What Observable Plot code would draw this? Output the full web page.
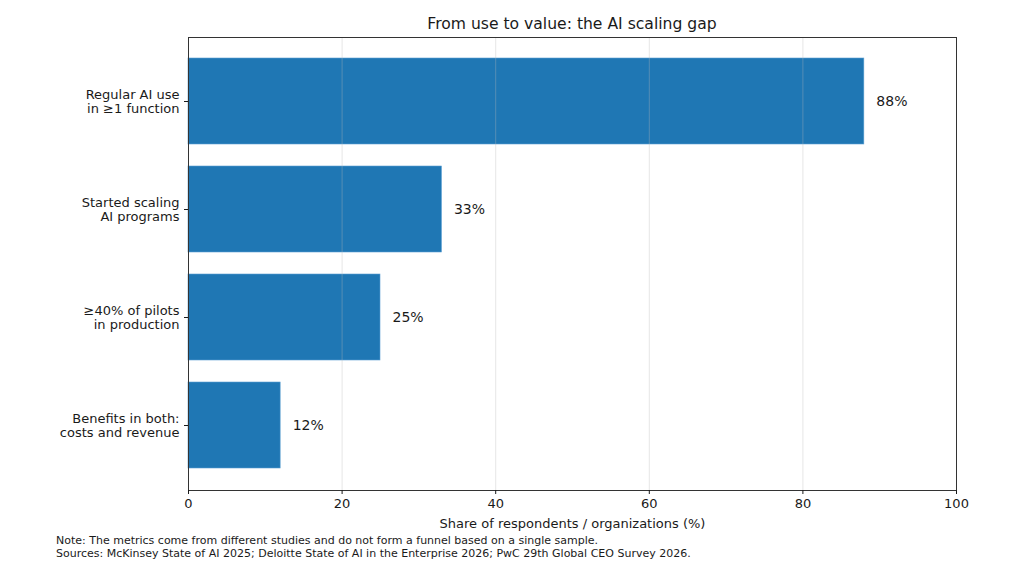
<!DOCTYPE html>
<html>
<head>
<meta charset="utf-8">
<script src="https://cdn.jsdelivr.net/npm/d3@7"></script>
<script src="https://cdn.jsdelivr.net/npm/@observablehq/plot@0.6"></script>
<style>
  html, body { margin: 0; padding: 0; background: #fff; }
  #wrap { position: relative; width: 1024px; height: 576px; font-family: "DejaVu Sans", sans-serif; color: #1a1a1a; }
  #title { position: absolute; left: 188px; width: 768px; top: 15px; text-align: center; font-size: 15.6px; }
  #note { position: absolute; left: 56px; top: 534px; font-size: 11px; line-height: 13px; }
  #chart { position: absolute; left: 0; top: 0; }
</style>
</head>
<body>
<div id="wrap">
  <div id="chart"></div>
  <div id="title">From use to value: the AI scaling gap</div>
  <div id="note">Note: The metrics come from different studies and do not form a funnel based on a single sample.<br>Sources: McKinsey State of AI 2025; Deloitte State of AI in the Enterprise 2026; PwC 29th Global CEO Survey 2026.</div>
</div>
<script>
// Categories (top to bottom) and their shares in percent
const categories = [
  "Regular AI use\nin ≥1 function",
  "Started scaling\nAI programs",
  "≥40% of pilots\nin production",
  "Benefits in both:\ncosts and revenue"
];
const shares = [88, 33, 25, 12];
const xTicks = [0, 20, 40, 60, 80, 100];
const gridLines = [20, 40, 60, 80];

const rows = categories.map((c, i) => ({category: c, share: shares[i]}));

const chart = Plot.plot({
  width: 1024,
  height: 576,
  marginTop: 37,
  marginBottom: 86,
  marginLeft: 188,
  marginRight: 68,
  style: {fontFamily: "DejaVu Sans, sans-serif", fontSize: "13px", color: "#1a1a1a", background: "transparent"},
  x: {domain: [0, 100]},
  y: {domain: categories, paddingInner: 0.2, paddingOuter: 0.19},
  marks: [
    Plot.barX(rows, {x: "share", y: "category", fill: "#1f77b4", stroke: "#5d9fd2", strokeWidth: 0.6}),
    Plot.ruleX(gridLines, {stroke: "#b8b8b8", strokeOpacity: 0.35, strokeWidth: 1}),
    Plot.text(rows, {x: "share", y: "category", text: d => d.share + "%", textAnchor: "start", dx: 12, fontSize: 14, fill: "#1a1a1a"}),
    Plot.frame({stroke: "#333", strokeWidth: 1}),
    Plot.axisX({ticks: xTicks, tickSize: 4, tickPadding: 4, fontSize: 13,
      label: "Share of respondents / organizations (%)", labelAnchor: "center", labelArrow: "none", labelOffset: 37}),
    Plot.axisY({tickSize: 4, tickPadding: 5, fontSize: 13, lineHeight: 1.12, label: null})
  ]
});
document.getElementById("chart").appendChild(chart);
</script>
</body>
</html>
